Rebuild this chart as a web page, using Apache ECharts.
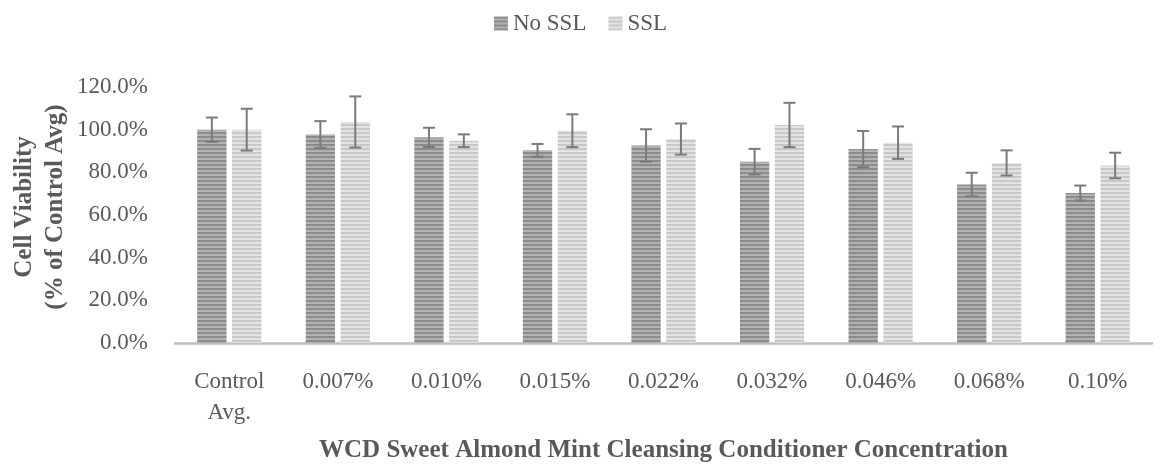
<!DOCTYPE html>
<html>
<head>
<meta charset="utf-8">
<script src="https://cdn.jsdelivr.net/npm/echarts@6/dist/echarts.min.js"></script>
<style>html,body{margin:0;padding:0;background:#fff;}#c{width:1161px;height:468px;}</style>
</head>
<body>
<div id="c"></div>
<script>
var categories = ['Control\nAvg.', '0.007%', '0.010%', '0.015%', '0.022%', '0.032%', '0.046%', '0.068%', '0.10%'];
var noSSL = [100, 97.7, 96.4, 90.3, 92.6, 85.0, 90.9, 74.3, 70.3];
var noSSLErr = [5.7, 6.3, 4.5, 3.0, 7.6, 6.0, 8.5, 5.5, 3.5];
var ssl = [100, 103.6, 94.8, 99.5, 95.6, 102.2, 93.9, 84.4, 83.2];
var sslErr = [9.8, 12.0, 3.0, 7.7, 7.3, 10.4, 7.6, 5.9, 6.0];
var yTicks = [0, 20, 40, 60, 80, 100, 120];

function stripes(cols) {
  var c = document.createElement('canvas');
  c.width = 4; c.height = cols.length;
  var ctx = c.getContext('2d');
  for (var i = 0; i < cols.length; i++) { ctx.fillStyle = cols[i]; ctx.fillRect(0, i, 4, 1); }
  return { image: c, repeat: 'repeat' };
}
var darkPat = stripes(['#8a8a8a', '#8f8f8f', '#adadad', '#b5b5b5']);
var lightPat = stripes(['#c6c6c6', '#cbcbcb', '#e0e0e0', '#e6e6e6']);

var FONT = '"Liberation Serif", "DejaVu Serif", serif';
var BAR_W = 0.27, BAR_GAP = 0.19;

function errSeries(vals, errs, side) {
  return {
    type: 'custom',
    name: side < 0 ? 'errNo' : 'errSsl',
    z: 10,
    data: vals.map(function (v, i) { return [i, v, errs[i]]; }),
    renderItem: function (params, api) {
      var i = api.value(0), v = api.value(1), e = api.value(2);
      var cw = api.size([1, 0])[0];
      var bw = cw * BAR_W;
      var off = side * (bw + bw * BAR_GAP) / 2;
      var top = api.coord([i, v + e]);
      var bot = api.coord([i, v - e]);
      var x = top[0] + off;
      var cap = 6;
      var st = { stroke: '#7a7a7a', lineWidth: 2 };
      return {
        type: 'group',
        children: [
          { type: 'line', shape: { x1: x, y1: top[1], x2: x, y2: bot[1] }, style: st },
          { type: 'line', shape: { x1: x - cap, y1: top[1], x2: x + cap, y2: top[1] }, style: st },
          { type: 'line', shape: { x1: x - cap, y1: bot[1], x2: x + cap, y2: bot[1] }, style: st }
        ]
      };
    },
    silent: true,
    tooltip: { show: false }
  };
}

var chart = echarts.init(document.getElementById('c'), null, { renderer: 'canvas' });
chart.setOption({
  animation: false,
  backgroundColor: '#fff',
  legend: {
    top: 7,
    left: 'center',
    data: ['No SSL', 'SSL'],
    itemWidth: 14,
    itemHeight: 14,
    itemGap: 22,
    icon: 'rect',
    textStyle: { fontFamily: FONT, fontSize: 23, color: '#595959' }
  },
  grid: { left: 175, right: 9, top: 87, bottom: 125, outerBoundsMode: 'none', containLabel: false },
  xAxis: {
    type: 'category',
    data: categories,
    axisLine: { lineStyle: { color: '#bfbfbf', width: 2.5 } },
    axisTick: { show: false },
    axisLabel: { fontFamily: FONT, fontSize: 23, color: '#595959', margin: 23, lineHeight: 31, interval: 0 },
    name: 'WCD Sweet Almond Mint Cleansing Conditioner Concentration',
    nameLocation: 'middle',
    nameGap: 95,
    nameMoveOverlap: false,
    nameTextStyle: { fontFamily: FONT, fontSize: 25, fontWeight: 'bold', color: '#595959' }
  },
  yAxis: {
    type: 'value',
    min: 0,
    max: 120,
    interval: 20,
    splitLine: { show: false },
    axisLine: { show: false },
    axisTick: { show: false },
    axisLabel: {
      fontFamily: FONT, fontSize: 23, color: '#595959', margin: 27,
      formatter: function (v) { return yTicks.indexOf(v) >= 0 ? v.toFixed(1) + '%' : ''; }
    },
    name: 'Cell Viability\n(% of Control Avg)',
    nameLocation: 'middle',
    nameRotate: 90,
    nameGap: 104,
    nameMoveOverlap: false,
    nameTextStyle: { fontFamily: FONT, fontSize: 25, fontWeight: 'bold', color: '#595959', lineHeight: 31, padding: [0, 0, 0, 16] }
  },
  series: [
    { name: 'No SSL', type: 'bar', data: noSSL, barWidth: (BAR_W * 100) + '%', barGap: (BAR_GAP * 100) + '%', itemStyle: { color: darkPat } },
    { name: 'SSL', type: 'bar', data: ssl, barWidth: (BAR_W * 100) + '%', itemStyle: { color: lightPat } },
    errSeries(noSSL, noSSLErr, -1),
    errSeries(ssl, sslErr, 1)
  ]
});
</script>
</body>
</html>
